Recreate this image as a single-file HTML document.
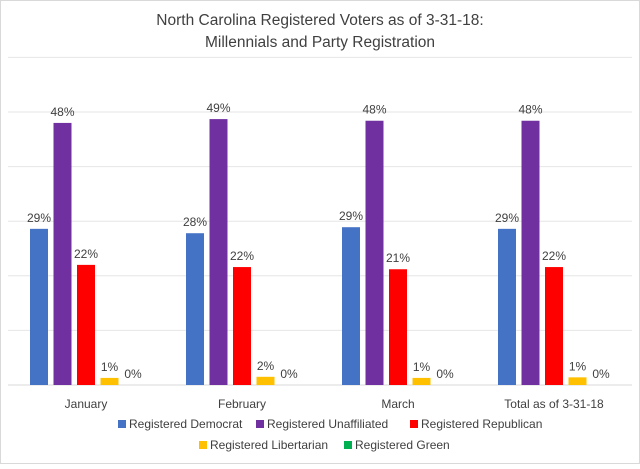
<!DOCTYPE html>
<html><head><meta charset="utf-8"><style>
body{margin:0;background:#fff;font-family:"Liberation Sans",sans-serif}
svg text{font-family:"Liberation Sans",sans-serif;fill:#404040}
</style></head><body>
<svg id="chart" width="640" height="464">
<rect x="0.5" y="0.5" width="639" height="463" fill="#fff" stroke="#d9d9d9"/>
<text x="320" y="25" text-anchor="middle" font-size="15.5">North Carolina Registered Voters as of 3-31-18:</text>
<text x="320" y="47" text-anchor="middle" font-size="15.5">Millennials and Party Registration</text>
<g id="grid"></g><g id="bars"></g><g id="xlabels"></g><g id="legend"></g>
</svg>
<script>
const categories=["January","February","March","Total as of 3-31-18"];
const seriesNames=["Registered Democrat","Registered Unaffiliated","Registered Republican","Registered Libertarian","Registered Green"];
const colors=["#4472c4","#7030a0","#ff0000","#ffc000","#00b050"];
const democrat=[28.6,27.8,28.9,28.6];
const unaffiliated=[48.0,48.7,48.4,48.4];
const republican=[22.0,21.6,21.2,21.6];
const libertarian=[1.3,1.5,1.3,1.4];
const green=[0,0,0,0];
const gridTicks=[0,10,20,30,40,50,60];
const series=[democrat,unaffiliated,republican,libertarian,green];
const NS="http://www.w3.org/2000/svg";
const x0=8,x1=632,yBase=385,pxPer=5.46;
const y=v=>yBase-v*pxPer;
const catW=(x1-x0)/categories.length;
function mk(tag,attrs,parent){const e=document.createElementNS(NS,tag);for(const k in attrs)e.setAttribute(k,attrs[k]);parent.appendChild(e);return e;}
const grid=document.getElementById('grid');
gridTicks.forEach(t=>{const l=mk('line',{x1:x0,x2:x1,y1:y(t),y2:y(t),stroke:t===0?'#d9d9d9':'#e6e6e6'},grid);

});
const bars=document.getElementById('bars'),xl=document.getElementById('xlabels');
const bw=18,gap=5.5;
categories.forEach((c,i)=>{
  const cx=x0+catW*(i+0.5);
  const start=cx-(5*bw+4*gap)/2;
  series.forEach((s,j)=>{
    const v=s[i],bx=start+j*(bw+gap);
    const r=mk('rect',{x:bx,y:y(v),width:bw,height:Math.max(0,v*pxPer),fill:colors[j]},bars);
    
    
    const t=mk('text',{x:bx+bw/2,y:y(v)-7,'text-anchor':'middle','font-size':'12'},bars);
    t.textContent=Math.round(v)+'%';
    
    
  });
  const t=mk('text',{x:cx,y:408,'text-anchor':'middle','font-size':'12'},xl);
  t.textContent=c;
  
  
});
const lg=document.getElementById('legend');
const pos=[[118,428],[256,428],[410,428],[199,449],[344,449]];
seriesNames.forEach((n,j)=>{
  const g=mk('g',{},lg);
  
  
  mk('rect',{x:pos[j][0],y:pos[j][1]-8,width:8,height:8,fill:colors[j]},g);
  const t=mk('text',{x:pos[j][0]+11,y:pos[j][1],'font-size':'12'},g);
  t.textContent=n;
});
</script>
</body></html>
